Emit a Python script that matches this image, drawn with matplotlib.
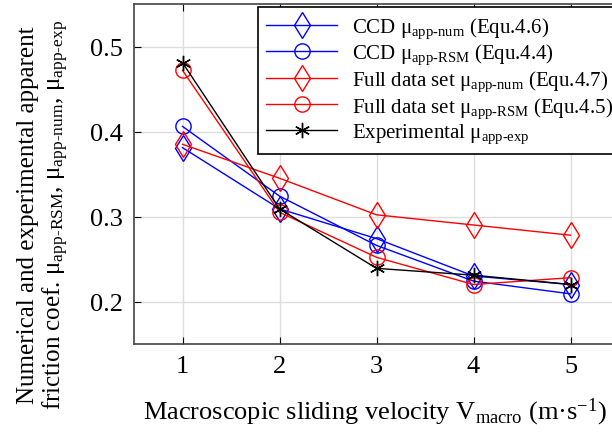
import matplotlib
matplotlib.use("Agg")
import matplotlib.pyplot as plt

plt.rcParams['font.family'] = ['Liberation Serif', 'DejaVu Serif']
plt.rcParams['mathtext.fontset'] = 'custom'
plt.rcParams['mathtext.rm'] = 'Liberation Serif'
plt.rcParams['mathtext.it'] = 'Liberation Serif:italic'

# velocity (m/s)
velocity = [1, 2, 3, 4, 5]

# friction coefficients
ccd_num = [0.381, 0.309, 0.274, 0.230, 0.220]
ccd_rsm = [0.406, 0.324, 0.266, 0.224, 0.209]
full_num = [0.385, 0.345, 0.302, 0.290, 0.278]
full_rsm = [0.472, 0.305, 0.252, 0.220, 0.228]
exp_mu = [0.481, 0.309, 0.239, 0.231, 0.220]

labels = [
    r'CCD μ$_{\mathrm{app\text{-}num}}$ (Equ.4.6)',
    r'CCD μ$_{\mathrm{app\text{-}RSM}}$ (Equ.4.4)',
    r'Full data set μ$_{\mathrm{app\text{-}num}}$ (Equ.4.7)',
    r'Full data set μ$_{\mathrm{app\text{-}RSM}}$ (Equ.4.5)',
    r'Experimental μ$_{\mathrm{app\text{-}exp}}$',
]

fig = plt.figure(figsize=(6.12, 4.39), dpi=100)
ax = fig.add_axes([134/612, 94/439, 485/612, 340/439])

ax.plot(velocity, ccd_num, color='blue', lw=1, marker='d', ms=13, mfc='none', mew=1, label=labels[0])
ax.plot(velocity, ccd_rsm, color='blue', lw=1, marker='o', ms=11, mfc='none', mew=1, label=labels[1])
ax.plot(velocity, full_num, color='red', lw=1, marker='d', ms=13, mfc='none', mew=1, label=labels[2])
ax.plot(velocity, full_rsm, color='red', lw=1, marker='o', ms=11, mfc='none', mew=1, label=labels[3])
ax.plot(velocity, exp_mu, color='black', lw=1, marker=(6, 2, 0), ms=11, mew=1, label=labels[4])

ax.set_xlim(0.5, 5.5)
ax.set_ylim(0.15, 0.55)
ax.set_xticks([1, 2, 3, 4, 5])
ax.set_yticks([0.2, 0.3, 0.4, 0.5])
ax.set_yticklabels(['0.2', '0.3', '0.4', '0.5'])
ax.tick_params(direction='in', top=True, right=True, labelsize=19, length=5, pad=8)
ax.grid(True, color='#dddddd', lw=1)
for s in ax.spines.values():
    s.set_color('#444444')
    s.set_linewidth(1.2)

fig.text(375/612, 1 - 412/439, r'Macroscopic sliding velocity V$_{\mathrm{macro}}$ (m·s$^{\mathrm{-1}}$)',
         fontsize=19, ha='center', va='center')
fig.text(44/612, 1 - 215/439, 'Numerical and experimental apparent\n'
         r'friction coef. μ$_{\mathrm{app\text{-}RSM}}$, μ$_{\mathrm{app\text{-}num}}$, μ$_{\mathrm{app\text{-}exp}}$',
         fontsize=18, rotation=90, ha='center', va='center', linespacing=1.05, multialignment='center')

leg = ax.legend(loc='upper left', bbox_to_anchor=((258 - 134)/485, 337/340), fontsize=15,
                frameon=True, fancybox=False, edgecolor='black', framealpha=1,
                handlelength=3.4, handletextpad=0.7, labelspacing=0.1, borderpad=0.4, borderaxespad=0)
leg.get_frame().set_linewidth(1.2)

fig.savefig('out.png', dpi=100)
